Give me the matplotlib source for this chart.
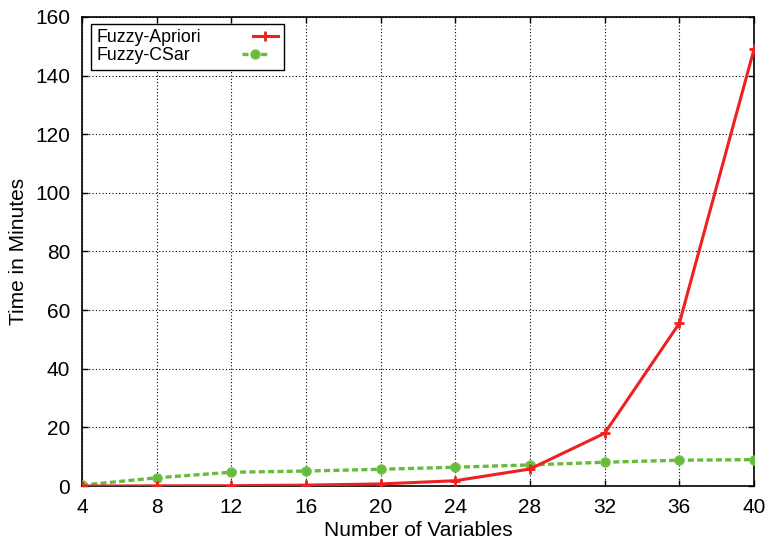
import matplotlib
matplotlib.use("Agg")
import matplotlib.pyplot as plt

plt.rcParams["font.family"] = ["Liberation Sans", "DejaVu Sans"]

variables = [4, 8, 12, 16, 20, 24, 28, 32, 36, 40]
fuzzy_apriori = [0.0, 0.05, 0.1, 0.3, 0.7, 1.8, 5.8, 18.0, 55.5, 149.0]
fuzzy_csar = [0.3, 2.8, 4.7, 5.1, 5.7, 6.4, 7.2, 8.1, 8.8, 9.0]

xticks = [4, 8, 12, 16, 20, 24, 28, 32, 36, 40]
yticks = [0, 20, 40, 60, 80, 100, 120, 140, 160]

W, H = 769, 547
fig = plt.figure(figsize=(W / 100, H / 100), dpi=100)
ax = fig.add_axes([82 / W, 1 - 486 / H, 672 / W, 469 / H])

ax.plot(variables, fuzzy_apriori, color="#ee2020", lw=2.2, marker="+",
        ms=7, mew=2, label="Fuzzy-Apriori", zorder=4)
ax.plot(variables, fuzzy_csar, color="#66bb3c", lw=2.4, ls=(0, (1.8, 1.0)),
        marker="o", ms=6.5, mfc="#66bb3c", mec="#72c24a", label="Fuzzy-CSar", zorder=3)

ax.set_xlim(4, 40)
ax.set_ylim(0, 160)
ax.set_xticks(xticks)
ax.set_yticks(yticks)
ax.tick_params(direction="in", top=True, right=True, labelsize=15, length=4.5, width=1, pad=8.5)
ax.grid(True, color="black", ls=(0, (1, 2)), lw=0.8)
for s in ax.spines.values():
    s.set_linewidth(1.2)

ax.set_xlabel("Number of Variables", fontsize=15, labelpad=3)
ax.set_ylabel("Time in Minutes", fontsize=15, labelpad=5)

leg = ax.legend(loc="upper left", markerfirst=False, fontsize=12.8, fancybox=False,
                edgecolor="black", framealpha=1, handlelength=1.45,
                borderpad=0.3, labelspacing=0.05, handletextpad=2.9,
                borderaxespad=0, bbox_to_anchor=(91 / W, 1 - 24 / H),
                bbox_transform=fig.transFigure)
leg.get_frame().set_linewidth(1.0)
# keep labels left aligned like the original
for col in leg._legend_handle_box.get_children():
    col.align = "left"

fig.savefig("out.png", dpi=100)
